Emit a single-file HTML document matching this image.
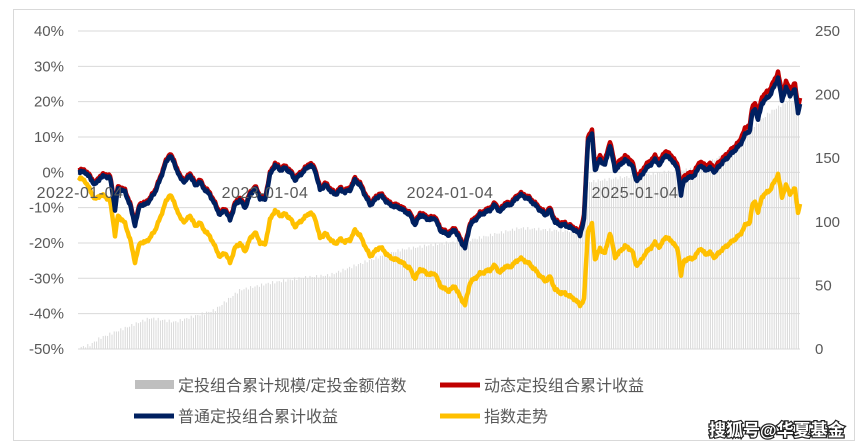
<!DOCTYPE html>
<html><head><meta charset="utf-8"><style>
body{margin:0;background:#fff;width:868px;height:447px;overflow:hidden;font-family:"Liberation Sans","Noto Sans CJK SC",sans-serif}
</style></head><body>
<svg id="s" width="868" height="447" xmlns="http://www.w3.org/2000/svg" style="position:absolute;left:0;top:0">
<rect x="13.5" y="9.5" width="841" height="431" fill="#fff" stroke="#d9d9d9"/>
<g id="grid" stroke="#d9d9d9" stroke-width="1"></g>
<g id="bars" stroke="#d9d9d9" stroke-width="1"></g>
<g id="lines" fill="none" stroke-linejoin="round"></g>
<g id="labels" font-family="Liberation Sans, Noto Sans CJK SC, sans-serif" font-size="15" fill="#595959"></g>
<g font-family="Liberation Sans, Noto Sans CJK SC, sans-serif" font-size="16" fill="#595959">
<rect x="135" y="380" width="39" height="9" fill="#bfbfbf"/>
<text x="178" y="391">定投组合累计规模/定投金额倍数</text>
<line x1="440" y1="385" x2="480" y2="385" stroke="#c00000" stroke-width="5"/>
<text x="484" y="391">动态定投组合累计收益</text>
<line x1="134" y1="416" x2="174" y2="416" stroke="#002060" stroke-width="5"/>
<text x="178" y="422">普通定投组合累计收益</text>
<line x1="440" y1="416" x2="480" y2="416" stroke="#ffc000" stroke-width="5"/>
<text x="484" y="422">指数走势</text>
</g>
<text x="709" y="436" font-family="Liberation Sans, Noto Sans CJK SC, sans-serif" font-size="17" font-weight="bold" fill="#fff" stroke="#222" stroke-width="2.5" paint-order="stroke">搜狐号@华夏基金</text>
</svg>
<script>
var NS="http://www.w3.org/2000/svg";
function el(p,t,a,txt){var e=document.createElementNS(NS,t);for(var k in a)e.setAttribute(k,a[k]);if(txt)e.textContent=txt;document.getElementById(p).appendChild(e);return e;}
var y0=31,dy=35.33;
var L=["40%","30%","20%","10%","0%","-10%","-20%","-30%","-40%","-50%"];
for(var i=0;i<10;i++){var y=y0+i*dy;el("grid","line",{x1:78,x2:800,y1:y,y2:y});el("labels","text",{x:64,y:y+5,"text-anchor":"end"},L[i]);}
var rl=["250","200","150","100","50","0"];for(var i=0;i<6;i++){el("labels","text",{x:815,y:31+i*63.6+5},rl[i]);}
[["2022-01-04",80],["2023-01-04",265],["2024-01-04",450],["2025-01-04",635]].forEach(function(d){el("labels","text",{x:d[1],y:198,"text-anchor":"middle","font-size":16,"letter-spacing":"0.5"},d[0]);});
function interp(pts,x){for(var i=1;i<pts.length;i++){if(x<=pts[i][0]){var a=pts[i-1],b=pts[i];return a[1]+(b[1]-a[1])*(x-a[0])/(b[0]-a[0]);}}return pts[pts.length-1][1];}
var bp=[[78,348],[90,345],[100,338],[120,330],[150,318],[175,322],[215,310],[240,290],[270,283],[300,278],[330,275],[370,260],[400,250],[430,245],[470,240],[520,228],[583,232],[588,182],[640,175],[700,168],[740,145],[750,130],[770,112],[790,100],[800,105]];
for(var x=79;x<=800;x+=2.2){var t=interp(bp,x)+Math.sin(x*1.7)*1.5;el("bars","line",{x1:x,x2:x,y1:349,y2:t});}
var np=[[78,172],[85,172],[90,178],[95,185],[100,178],[105,176],[110,178],[113,195],[115,210],[118,188],[125,192],[130,205],[135,225],[140,205],[145,205],[150,200],[155,192],[160,180],[165,165],[170,155],[175,165],[180,178],[185,182],[190,175],[195,185],[200,182],[205,190],[210,195],[215,205],[220,215],[225,210],[230,220],[235,205],[240,200],[245,208],[250,195],[255,188],[260,198],[265,200],[270,175],[275,165],[280,170],[285,168],[290,172],[295,180],[300,175],[310,165],[315,170],[320,190],[325,185],[335,195],[340,190],[345,192],[350,190],[355,180],[360,185],[365,195],[370,205],[375,200],[380,195],[390,205],[400,208],[410,215],[415,225],[420,215],[430,220],[435,218],[440,230],[448,235],[455,230],[460,240],[465,248],[470,225],[480,215],[490,210],[495,205],[500,212],[505,205],[510,205],[515,200],[520,195],[525,197],[530,200],[540,210],[545,215],[550,210],[555,222],[560,225],[565,225],[575,230],[580,235],[584,220],[588,140],[592,135],[595,170],[600,160],[605,165],[610,145],[615,170],[620,165],[625,160],[632,165],[636,180],[640,178],[645,170],[650,165],[655,160],[660,165],[665,155],[672,160],[678,170],[681,195],[684,180],[695,175],[700,165],[705,170],[710,168],[715,172],[720,165],[725,160],[730,155],[735,150],[740,145],[745,135],[750,130],[752,115],[755,108],[758,120],[762,103],[770,95],[775,85],[778,78],[782,100],[786,88],[790,95],[795,90],[798,112],[800,105]];
var op=[[78,5],[135,37],[270,45],[465,57],[580,70],[588,90],[682,80],[800,100]];
var n="",r="",yl="";
for(var x=78;x<=800;x+=1){var v=interp(np,x)+Math.sin(x*2.3)*0.8+Math.sin(x*0.9)*0.8;var off=interp(op,x);
var rd=v-2-(x>580?2:0)-(x>740?2:0);
n+=(x==78?"M":"L")+x+","+v.toFixed(1);r+=(x==78?"M":"L")+x+","+rd.toFixed(1);yl+=(x==78?"M":"L")+x+","+(v+off).toFixed(1);}
el("lines","path",{d:yl,stroke:"#ffc000","stroke-width":4.5});
el("lines","path",{d:r,stroke:"#c00000","stroke-width":4.5});
el("lines","path",{d:n,stroke:"#002060","stroke-width":4.5});
</script>
</body></html>
